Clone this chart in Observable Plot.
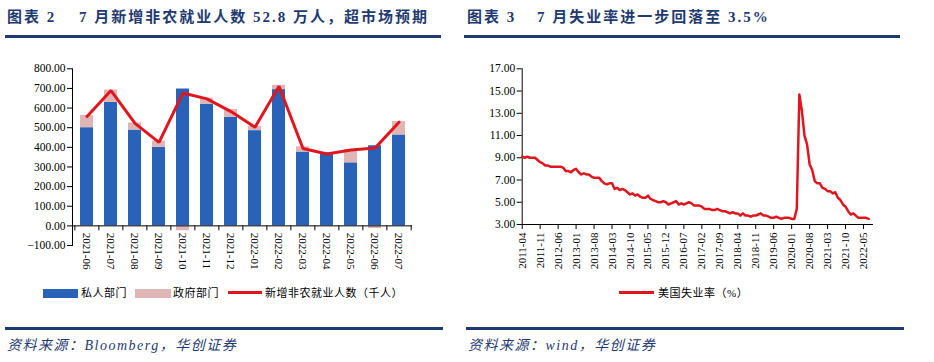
<!DOCTYPE html>
<html><head><meta charset="utf-8">
<script src="https://cdn.jsdelivr.net/npm/d3@7"></script>
<script src="https://cdn.jsdelivr.net/npm/@observablehq/plot@0.6"></script>
<style>
body{margin:0;width:934px;height:362px;position:relative;background:#fff;overflow:hidden;}
.a{position:absolute;white-space:nowrap;}
.title{font-family:"Liberation Serif","Noto Sans CJK SC";font-weight:700;font-size:15px;color:#1f3a70;letter-spacing:2px;line-height:22px;top:6px;}
.rule{position:absolute;height:3px;background:#1f3a70;}
.src{font-family:"Liberation Serif","Noto Sans CJK SC";font-style:italic;font-size:14px;letter-spacing:1.5px;color:#1f3a70;top:337px;line-height:18px;}
.leg{font-family:"Liberation Serif","Noto Sans CJK SC";font-size:11px;color:#000;top:285px;line-height:16px;letter-spacing:0.5px;}
.sw{position:absolute;}
</style>
</head><body>
<div class="a title" style="left:7px">图表 2</div>
<div class="a title" style="left:79px">7 月新增非农就业人数 52.8 万人，超市场预期</div>
<div class="a title" style="left:467px">图表 3</div>
<div class="a title" style="left:537px">7 月失业率进一步回落至 3.5%</div>
<div class="rule" style="left:5px;width:436px;top:35px"></div>
<div class="rule" style="left:464px;width:436px;top:35px"></div>
<div id="left" class="a" style="left:0;top:0"></div>
<div id="right" class="a" style="left:460px;top:0"></div>
<div class="sw" style="left:43px;top:289px;width:35px;height:9px;background:#2962b9"></div>
<div class="a leg" style="left:81px">私人部门</div>
<div class="sw" style="left:135px;top:289px;width:36px;height:9px;background:#e0b5b5"></div>
<div class="a leg" style="left:173px">政府部门</div>
<div class="sw" style="left:228px;top:291px;width:34px;height:3px;background:#e0161e"></div>
<div class="a leg" style="left:265px">新增非农就业人数（千人）</div>
<div class="sw" style="left:619px;top:291px;width:35px;height:3px;background:#e0161e"></div>
<div class="a leg" style="left:658px">美国失业率（%）</div>
<div class="rule" style="left:5px;width:438px;top:327px;height:2.5px"></div>
<div class="rule" style="left:466px;width:438px;top:327px;height:2.5px"></div>
<div class="a src" style="left:7px">资料来源：Bloomberg，华创证券</div>
<div class="a src" style="left:468px">资料来源：wind，华创证券</div>
<script>
// ---- Chart 2 data ----
const months = ["2021-06","2021-07","2021-08","2021-09","2021-10","2021-11","2021-12","2022-01","2022-02","2022-03","2022-04","2022-05","2022-06","2022-07"];
const privateJobs = [500, 629, 488, 400, 697, 620, 553, 485, 694, 376, 372, 321, 408, 463];
const govJobs = [63, 63, 36, 32, -25, 30, 40, 22, 22, 27, 0, 68, -14, 68];
const totalJobs = [557, 689, 522, 425, 677, 647, 582, 502, 711, 394, 366, 386, 396, 528];
const jobsTicks = [-100, 0, 100, 200, 300, 400, 500, 600, 700, 800];

// ---- Chart 3 data ----
const rateStart = "2011-04";
const rate2011 = [9.1, 9.0, 9.1, 9.0, 9.0, 9.0, 8.8, 8.6, 8.5];
const rate2012 = [8.3, 8.3, 8.2, 8.2, 8.2, 8.2, 8.2, 8.1, 7.8, 7.8, 7.7, 7.9];
const rate2013 = [8.0, 7.7, 7.5, 7.6, 7.5, 7.5, 7.3, 7.2, 7.2, 7.2, 6.9, 6.7];
const rate2014 = [6.6, 6.7, 6.7, 6.2, 6.3, 6.1, 6.2, 6.1, 5.9, 5.7, 5.8, 5.6];
const rate2015 = [5.7, 5.5, 5.4, 5.4, 5.6, 5.3, 5.2, 5.1, 5.0, 5.0, 5.1, 5.0];
const rate2016 = [4.8, 4.9, 5.0, 5.1, 4.8, 4.9, 4.8, 4.9, 5.0, 4.9, 4.7, 4.7];
const rate2017 = [4.7, 4.6, 4.4, 4.4, 4.4, 4.3, 4.3, 4.4, 4.3, 4.2, 4.2, 4.1];
const rate2018 = [4.0, 4.1, 4.0, 4.0, 3.8, 4.0, 3.8, 3.8, 3.7, 3.8, 3.8, 3.9];
const rate2019 = [4.0, 3.8, 3.8, 3.7, 3.6, 3.6, 3.7, 3.6, 3.5, 3.6, 3.6, 3.6];
const rate2020 = [3.5, 3.5, 4.4, 14.7, 13.2, 11.0, 10.2, 8.4, 7.9, 6.9, 6.7, 6.7];
const rate2021 = [6.3, 6.2, 6.0, 6.0, 5.8, 5.9, 5.4, 5.2, 4.8, 4.6, 4.2, 3.9];
const rate2022 = [4.0, 3.8, 3.6, 3.6, 3.6, 3.6, 3.5];
const rateTickLabels = ["2011-04","2011-11","2012-06","2013-01","2013-08","2014-03","2014-10","2015-05","2015-12","2016-07","2017-02","2017-09","2018-04","2018-11","2019-06","2020-01","2020-08","2021-03","2021-10","2022-05"];
const rateTicks = [3, 5, 7, 9, 11, 13, 15, 17];

const BLUE = "#2962b9", PINK = "#e0b5b5", RED = "#e0161e";
const fmt = d3.format(".2f");
const serif = "Liberation Serif, Times New Roman, serif";

// ---- Left chart ----
const rows = months.map((m, i) => ({m, p: privateJobs[i], g: govJobs[i], t: totalJobs[i]}));
const lw = 450, lh = 280, lml = 72, lmr = 38, lmt = 68.3, lmb = 35;
const step = (lw - lml - lmr) / months.length;
const unitsPerPx = (jobsTicks[jobsTicks.length - 1] - jobsTicks[0]) / (lh - lmt - lmb);
const left = Plot.plot({
  width: lw, height: lh, marginLeft: lml, marginRight: lmr, marginTop: lmt, marginBottom: lmb,
  style: {fontFamily: serif, fontSize: "11.5px", color: "#000", background: "transparent", overflow: "visible"},
  x: {domain: months, paddingInner: 0.46, paddingOuter: 0.23, axis: null},
  y: {domain: [jobsTicks[0], jobsTicks[jobsTicks.length - 1]], axis: null},
  marks: [
    Plot.barY(rows, {x: "m", y1: 0, y2: "p", fill: BLUE}),
    Plot.barY(rows, {x: "m", y1: d => d.g >= 0 ? d.p : 0, y2: d => d.g >= 0 ? d.p + d.g : d.g, fill: PINK}),
    Plot.ruleY([0], {stroke: "#000", strokeWidth: 1}),
    Plot.ruleX(months, {x: d => d, dx: -step / 2, y1: 0, y2: -5 * unitsPerPx, stroke: "#000"}),
    Plot.ruleX([months[months.length - 1]], {x: d => d, dx: step / 2, y1: 0, y2: -5 * unitsPerPx, stroke: "#000"}),
    Plot.text(months, {x: d => d, y: 0, text: d => d, rotate: 90, textAnchor: "start", lineAnchor: "middle", dy: 7, fontSize: 11, fill: "#000"}),
    Plot.frame({anchor: "left", stroke: "#000"}),
    Plot.axisY({ticks: jobsTicks, tickFormat: fmt, tickSize: 5, tickPadding: 2, label: null, stroke: "#000", fill: "#000"}),
    Plot.line(rows, {x: "m", y: "t", stroke: RED, strokeWidth: 3, strokeLinejoin: "miter"})
  ]
});
document.getElementById("left").append(left);

// ---- Right chart ----
const rates = [...rate2011, ...rate2012, ...rate2013, ...rate2014, ...rate2015, ...rate2016, ...rate2017, ...rate2018, ...rate2019, ...rate2020, ...rate2021, ...rate2022];
const monthIndex = s => {
  const [y0, m0] = rateStart.split("-").map(Number);
  const [y, m] = s.split("-").map(Number);
  return (y - y0) * 12 + (m - m0);
};
const rateRows = rates.map((v, i) => ({i, v}));
const tickIdx = rateTickLabels.map(monthIndex);
const right = Plot.plot({
  width: 474, height: 280, marginLeft: 61.7, marginRight: 62, marginTop: 68.3, marginBottom: 56,
  style: {fontFamily: serif, fontSize: "11.5px", color: "#000", background: "transparent", overflow: "visible"},
  x: {domain: [0, 136.5], axis: null},
  y: {domain: [rateTicks[0], rateTicks[rateTicks.length - 1]], axis: null},
  marks: [
    Plot.frame({anchor: "left", stroke: "#000"}),
    Plot.frame({anchor: "bottom", stroke: "#000"}),
    Plot.axisY({ticks: rateTicks, tickFormat: fmt, tickSize: 5, tickPadding: 2, label: null, stroke: "#000", fill: "#000"}),
    Plot.axisX({ticks: tickIdx, tickFormat: (d, i) => rateTickLabels[i], tickSize: 5, tickPadding: 3, tickRotate: -90, label: null, fontSize: 11, stroke: "#000", fill: "#000"}),
    Plot.line(rateRows, {x: "i", y: "v", stroke: RED, strokeWidth: 2.5})
  ]
});
document.getElementById("right").append(right);
</script>
</body></html>
